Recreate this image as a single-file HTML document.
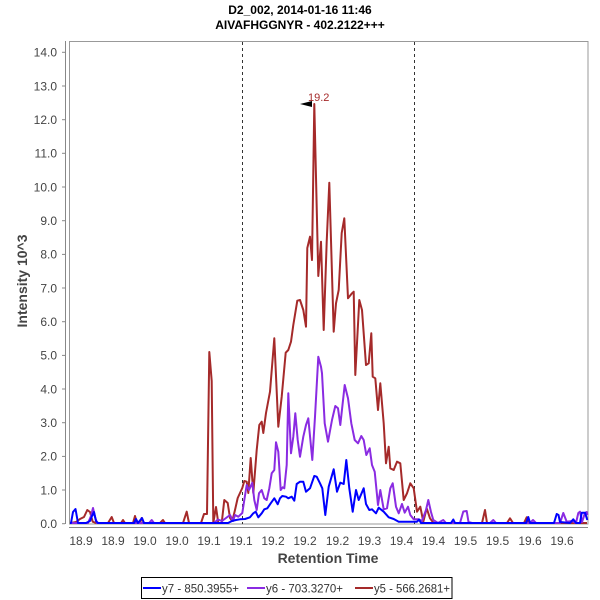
<!DOCTYPE html>
<html>
<head>
<meta charset="utf-8">
<style>
html,body{margin:0;padding:0;background:#fff;}
svg{display:block;}
text{font-family:"Liberation Sans",Arial,sans-serif;}
</style>
</head>
<body>
<svg width="600" height="600" viewBox="0 0 600 600" xmlns="http://www.w3.org/2000/svg">
<rect x="0" y="0" width="600" height="600" fill="#fff"/>
<!-- Title -->
<text x="300" y="14" text-anchor="middle" font-size="12" font-weight="bold" fill="#000">D2_002, 2014-01-16 11:46</text>
<text x="300" y="29" text-anchor="middle" font-size="12" font-weight="bold" fill="#000">AIVAFHGGNYR - 402.2122+++</text>

<!-- plot outline -->
<rect x="69.5" y="41.5" width="518.5" height="482.5" fill="none" stroke="#999" stroke-width="1"/>
<!-- axes -->
<line x1="65.5" y1="41" x2="65.5" y2="524" stroke="#888" stroke-width="1"/>
<line x1="69" y1="527.5" x2="588" y2="527.5" stroke="#888" stroke-width="1"/>

<!-- y ticks -->
<g stroke="#888" stroke-width="1">
<line x1="62" y1="523.7" x2="65" y2="523.7"/>
<line x1="62" y1="490.0" x2="65" y2="490.0"/>
<line x1="62" y1="456.4" x2="65" y2="456.4"/>
<line x1="62" y1="422.7" x2="65" y2="422.7"/>
<line x1="62" y1="389.0" x2="65" y2="389.0"/>
<line x1="62" y1="355.4" x2="65" y2="355.4"/>
<line x1="62" y1="321.7" x2="65" y2="321.7"/>
<line x1="62" y1="288.0" x2="65" y2="288.0"/>
<line x1="62" y1="254.4" x2="65" y2="254.4"/>
<line x1="62" y1="220.7" x2="65" y2="220.7"/>
<line x1="62" y1="187.0" x2="65" y2="187.0"/>
<line x1="62" y1="153.3" x2="65" y2="153.3"/>
<line x1="62" y1="119.7" x2="65" y2="119.7"/>
<line x1="62" y1="86.0" x2="65" y2="86.0"/>
<line x1="62" y1="52.3" x2="65" y2="52.3"/>
</g>
<g font-size="12" fill="#444" text-anchor="end">
<text x="57" y="528">0.0</text>
<text x="57" y="494.3">1.0</text>
<text x="57" y="460.7">2.0</text>
<text x="57" y="427">3.0</text>
<text x="57" y="393.3">4.0</text>
<text x="57" y="359.7">5.0</text>
<text x="57" y="326">6.0</text>
<text x="57" y="292.3">7.0</text>
<text x="57" y="258.7">8.0</text>
<text x="57" y="225">9.0</text>
<text x="57" y="191.3">10.0</text>
<text x="57" y="157.6">11.0</text>
<text x="57" y="124">12.0</text>
<text x="57" y="90.3">13.0</text>
<text x="57" y="56.6">14.0</text>
</g>

<!-- x tick labels -->
<g font-size="12" fill="#444" text-anchor="middle">
<text x="81" y="545">18.9</text>
<text x="113" y="545">18.9</text>
<text x="145" y="545">19.0</text>
<text x="177" y="545">19.0</text>
<text x="209" y="545">19.1</text>
<text x="241" y="545">19.1</text>
<text x="273" y="545">19.2</text>
<text x="305" y="545">19.2</text>
<text x="337.5" y="545">19.2</text>
<text x="369.5" y="545">19.3</text>
<text x="401.5" y="545">19.4</text>
<text x="433.5" y="545">19.4</text>
<text x="465.5" y="545">19.5</text>
<text x="497.5" y="545">19.5</text>
<text x="530" y="545">19.6</text>
<text x="562" y="545">19.6</text>
</g>

<!-- axis titles -->
<text x="328" y="563" text-anchor="middle" font-size="14" font-weight="bold" fill="#444">Retention Time</text>
<text transform="translate(27,281) rotate(-90)" text-anchor="middle" font-size="14" font-weight="bold" fill="#444">Intensity 10^3</text>

<!-- dashed lines -->
<line x1="242.5" y1="42" x2="242.5" y2="524" stroke="#333" stroke-width="1" stroke-dasharray="3,3"/>
<line x1="414.5" y1="42" x2="414.5" y2="524" stroke="#333" stroke-width="1" stroke-dasharray="3,3"/>

<!-- red series y5 -->
<polyline fill="none" stroke="#a52a2a" stroke-width="2" stroke-linejoin="round" points="
70,523 71,523 76,522 80,519 84,517 87.3,510 90,512 92.7,521.7 96,523 108,523 111.7,517 114,523 121,523 123,520 125,523 133,523 135,516 137,523 140,523 141.7,518 144,523 160,523 163,520 165,523 183,523 186.7,511.7 189,523 201,523 204,514 207,514 209.3,352 211.7,381 213.3,523 216,507 218.3,523 221.7,523 224.3,500 227.7,503 230,518 232.3,521 235,510 237.7,498 242.3,488 244.3,481 246.7,481.7 248.3,493 250.7,458 253.3,493 256.7,450 259.3,425 261.7,421.7 263.3,433 266,413 270,391.7 274.3,338.3 278.3,426.7 281.7,396.7 285.7,352.7 288.3,350 291,341.7 293.3,325 297.3,300.7 300,300 303.3,310 306,326.7 307.3,248 310,236.7 312,260 314.3,104 318.3,276 321,241.7 323.7,330 326.7,241.7 329.3,182.7 333.7,331.7 336,303.3 338.7,290 341.7,233 344.3,218.3 348,298.3 352,293.3 353.7,291.7 355.3,375 359.3,300 362,310 366,365 368.7,363.3 371.3,333.3 372.7,376.7 375.3,378.3 378,410 380.3,383.3 383.7,423.3 386,463.3 388.7,446.7 390.3,468.3 393.7,470 397,461.7 400.3,463.3 403.7,500 407,493.3 410.3,483.3 413.7,488.3 417,511.7 420.3,506.7 423.3,521.7 426.7,508.3 430,518.3 433.3,522.7 440,523 482,523 485,510 487,523 507,523 510,518.3 513,523 524,523 526.7,517.3 529,523 587,523"/>

<!-- purple series y6 -->
<polyline fill="none" stroke="#8a2be2" stroke-width="2" stroke-linejoin="round" points="
70,523 88,523 91,516 93,508 95,517 97,523 149,523 151.7,520 154,523 214,523 218,519.5 222,521 226,518 230,515 233,521 235,515 238.3,516.7 242.3,513 244.3,500 246.7,485 249,490 252.3,482.7 254.3,500 256.7,510 259,493.3 261.7,490 264.3,498.3 266.7,500 269.3,488.3 271.7,473.3 274.3,470 276,442.3 278.3,451.7 280.7,490 282.7,487.3 284.3,488.3 286.7,465 288.3,393.3 291,453.3 293.3,436.7 295.3,413.3 297.7,440 300,456.7 303.3,436.7 306,425 308.3,418.3 312.3,460 315,416.7 318.3,356.7 321,366.7 322,373.3 324.7,423.3 328,441.7 332,420 335.3,406 338,408.3 340.3,425 344.7,385 348,398.3 351.3,423.3 354.7,440 358,443.3 361.3,436 363.7,440 366.3,455 369.7,448.3 372,465 374.7,471.7 378,505 380.3,490 383.7,509.3 387,508.3 390.3,488.3 392.7,483.3 396,506.7 398.7,513.3 402,504 404.7,512.7 408,506.7 410.3,515 413.7,519.3 418.7,519.3 422,521 426,510 428.3,500 431,512 433.3,520 438,523 443.3,520 446,523 460,523 463.3,511.5 466.7,511 468.5,522 472,523 490,523 493.3,520 496,523 530,523 533,520 536,523 560,523 563.3,513 566.7,521.7 572,521 576,523 578.3,513 580,511.7 582,522 585,513 586.7,512 587.5,515"/>

<!-- blue series y7 -->
<polyline fill="none" stroke="#0000ff" stroke-width="2" stroke-linejoin="round" points="
70,523 71,523 73,512 75.5,509 78,523 82,523 86,523 90,521 92,516 94,512 96,521 98,523 134,523 136,519 138,523 142,518 144,523 228,523 232,521 236,520 240,519.3 245,519 250,517.3 253.3,513.3 255.7,511.7 258.3,517.3 261.7,513.3 264.3,509.3 267.3,508.3 270.7,503.3 274.3,498.3 277.7,504.3 280,498.3 282.3,496 286,496.7 288.3,498.3 291.7,496.7 294.3,500.7 296.7,484 300,481.7 303.3,481.7 306,491.7 310,488.3 314.3,476 316.7,476.7 320,483.3 322.3,488.3 325.3,515 328.7,486.7 333.7,469.3 337,491.7 340.3,482.7 343.7,484 346.3,460 349.3,488.3 352.7,511.7 356,490 358.7,500 363.7,488.3 366,504 369.3,510 372,509.3 376,513.3 378.7,507.7 383.7,511.7 388.7,517.3 393.7,519 398.7,521.7 408.7,521.7 417,521.7 419,519.5 421,523 451,523 453.3,519.5 455,523 526,523 528.3,517 530,523 554,523 556.7,514 558.5,515 560,522 570,523 573.3,519.3 576,523 580,523 581.7,512.7 585,512.7 587.3,520"/>

<!-- peak annotation -->
<polygon points="300,104 312,101 312,107" fill="#000"/>
<text x="308" y="101" font-size="11" fill="#a52a2a">19.2</text>

<!-- legend -->
<rect x="141.5" y="577.5" width="310.5" height="21" fill="#fff" stroke="#000" stroke-width="1"/>
<line x1="143" y1="588" x2="161" y2="588" stroke="#0000ff" stroke-width="2"/>
<text x="162" y="592.5" font-size="12" fill="#333" textLength="77" lengthAdjust="spacingAndGlyphs">y7 - 850.3955+</text>
<line x1="247" y1="588" x2="265" y2="588" stroke="#8a2be2" stroke-width="2"/>
<text x="266" y="592.5" font-size="12" fill="#333" textLength="77" lengthAdjust="spacingAndGlyphs">y6 - 703.3270+</text>
<line x1="355" y1="588" x2="373" y2="588" stroke="#a52a2a" stroke-width="2"/>
<text x="374" y="592.5" font-size="12" fill="#333" textLength="76" lengthAdjust="spacingAndGlyphs">y5 - 566.2681+</text>
</svg>
</body>
</html>
